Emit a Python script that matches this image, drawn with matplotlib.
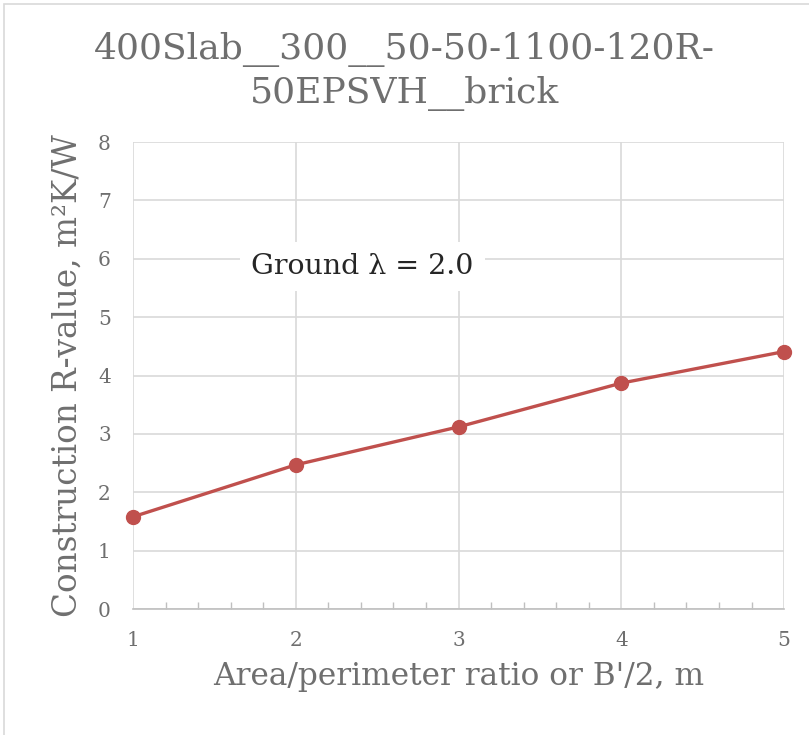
import matplotlib
matplotlib.use('Agg')
import matplotlib.pyplot as plt
import matplotlib.ticker as mtick
from matplotlib.patches import Rectangle

ratio = [1, 2, 3, 4, 5]
r_value = [1.58, 2.47, 3.12, 3.87, 4.41]
y_ticks = [0, 1, 2, 3, 4, 5, 6, 7, 8]

plt.rcParams['font.family'] = ['DejaVu Serif']
grey = '#6f6f6f'

fig = plt.figure(figsize=(8.09, 7.35), dpi=100)
ax = fig.add_axes([0.1644, 0.1714, 0.8048, 0.6354])

# outer chart border (cut off at right/bottom)
fig.patches.append(Rectangle((4 / 809, -0.01), 1.0, 1 - 4 / 735 + 0.01,
                             transform=fig.transFigure, fill=False,
                             edgecolor='#d9d9d9', linewidth=1.2))

ax.plot(ratio, r_value, color='#c0504d', linewidth=2.4, marker='o',
        markersize=10, zorder=3, clip_on=False)

ax.set_xlim(1, 5)
ax.set_ylim(0, 8)
ax.set_xticks(ratio)
ax.set_yticks(y_ticks)
ax.xaxis.set_minor_locator(mtick.MultipleLocator(0.2))
ax.grid(True, which='major', color='#d9d9d9', linewidth=1.2)
ax.set_axisbelow(True)

for s in ['top', 'right', 'left']:
    ax.spines[s].set_visible(False)
ax.spines['bottom'].set_color('#bfbfbf')
ax.spines['bottom'].set_linewidth(1.2)

ax.tick_params(axis='x', which='major', length=0, pad=16, labelsize=14.5, labelcolor=grey)
ax.tick_params(axis='x', which='minor', direction='in', length=5, color='#bfbfbf', width=1)
ax.tick_params(axis='y', length=0, pad=16, labelsize=14.5, labelcolor=grey)

ax.set_xlabel("Area/perimeter ratio or B'/2, m", fontsize=22.5, color=grey, labelpad=8)
ax.set_ylabel('Construction R-value, m²K/W', fontsize=23.5, color=grey, labelpad=10)

ax.text(2.41, 5.87, 'Ground λ = 2.0', fontsize=20.5, color='#262626',
        ha='center', va='center',
        bbox=dict(facecolor='white', edgecolor='none', pad=8))

fig.text(0.5, 0.903, '400Slab__300__50-50-1100-120R-\n50EPSVH__brick',
         ha='center', va='center', fontsize=26, color=grey, linespacing=1.35)

plt.savefig('out.png', dpi=100)
